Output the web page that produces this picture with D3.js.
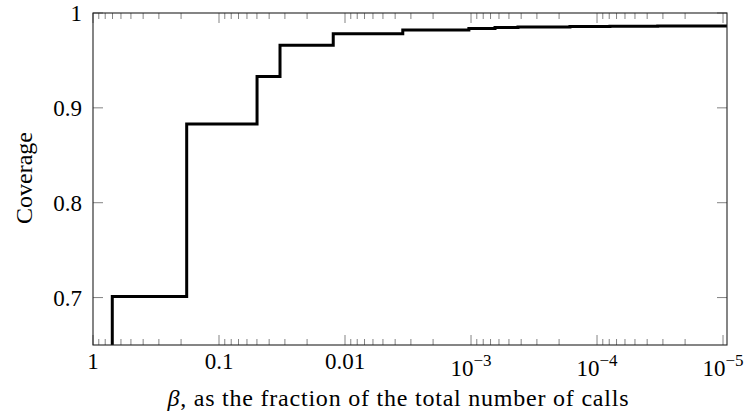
<!DOCTYPE html>
<html><head><meta charset="utf-8">
<script src="https://cdn.jsdelivr.net/npm/d3@7"></script>
<style>body{margin:0;background:#fff}svg{display:block}text{font-family:"Liberation Serif","DejaVu Serif",serif;fill:#000}</style>
</head><body><svg id="c" width="746" height="420"></svg>
<script>
// data: beta threshold (fraction of total calls) and coverage
const betas    = [0.703, 0.703, 0.1805, 0.0499, 0.0328, 0.0124, 0.00348, 0.00104, 0.000645, 0.000424, 0.000164, 0.000079, 0.000033, 0.0000093];
const coverage = [0.60,  0.701, 0.883,  0.933,  0.966,  0.978,  0.982,   0.9837,  0.9847,   0.9852,   0.9857,   0.9860,   0.9862,   0.9862];
const xTickValues = [1, 0.1, 0.01, 1e-3, 1e-4, 1e-5];
const xTickLabels = ["1", "0.1", "0.01", "10|−3", "10|−4", "10|−5"];
const yTickValues = [0.7, 0.8, 0.9, 1];
const yTickLabels = ["0.7", "0.8", "0.9", "1"];

const L = 93, R = 727, T = 13, B = 345;
const svg = d3.select("#c");
const x = d3.scaleLog().domain([1, 0.0000093]).range([L, R]);
const y = d3.scaleLinear().domain([0.65, 1]).range([B, T]);

// minor ticks
const minor = [];
for (let e = 0; e >= -5; e--) for (let k = 2; k <= 9; k++) { const v = k * Math.pow(10, e - 1); if (v >= 0.0000093) minor.push(v); }

const tickG = svg.append("g").attr("stroke", "#000").attr("stroke-opacity", 0.55).attr("stroke-width", 0.9);
minor.forEach(v => {
  tickG.append("line").attr("x1", x(v)).attr("x2", x(v)).attr("y1", B).attr("y2", B - 6);
  tickG.append("line").attr("x1", x(v)).attr("x2", x(v)).attr("y1", T).attr("y2", T + 6);
});
xTickValues.forEach(v => {
  tickG.append("line").attr("x1", x(v)).attr("x2", x(v)).attr("y1", B).attr("y2", B - 10);
  tickG.append("line").attr("x1", x(v)).attr("x2", x(v)).attr("y1", T).attr("y2", T + 10);
});
yTickValues.forEach(v => {
  tickG.append("line").attr("x1", L).attr("x2", L + 10).attr("y1", y(v)).attr("y2", y(v));
  tickG.append("line").attr("x1", R).attr("x2", R - 10).attr("y1", y(v)).attr("y2", y(v));
});

// data line
svg.append("clipPath").attr("id", "clip").append("rect").attr("x", L).attr("y", T).attr("width", R - L).attr("height", B - T);
const pts = betas.map((b, i) => [b, coverage[i]]);
svg.append("path").datum(pts).attr("clip-path", "url(#clip)")
  .attr("fill", "none").attr("stroke", "#000").attr("stroke-width", 3).attr("stroke-linejoin", "miter")
  .attr("d", d3.line().x(d => x(d[0])).y(d => y(d[1])).curve(d3.curveStepAfter));

// frame
svg.append("rect").attr("x", L).attr("y", T).attr("width", R - L).attr("height", B - T)
  .attr("fill", "none").attr("stroke", "#222").attr("stroke-width", 1.1);

const fs = 23;
// x tick labels
xTickValues.forEach((v, i) => {
  const lab = xTickLabels[i];
  if (lab.includes("|")) {
    const [base, exp] = lab.split("|");
    const t = svg.append("text").attr("x", x(v)).attr("y", 376).attr("text-anchor", "middle").attr("font-size", fs);
    t.append("tspan").text(base);
    t.append("tspan").attr("font-size", 17).attr("dy", -10).text(exp);
  } else {
    svg.append("text").attr("x", x(v)).attr("y", 369).attr("text-anchor", "middle").attr("font-size", fs).text(lab);
  }
});
// y tick labels
yTickValues.forEach((v, i) => {
  svg.append("text").attr("x", 82).attr("y", y(v) + 8).attr("text-anchor", "end").attr("font-size", fs).text(yTickLabels[i]);
});
// axis labels
const xl = svg.append("text").attr("x", 398).attr("y", 406).attr("text-anchor", "middle").attr("font-size", 24)
  .attr("textLength", 461).attr("lengthAdjust", "spacing");
xl.append("tspan").attr("font-style", "italic").text("β");
xl.append("tspan").text(", as the fraction of the total number of calls");
svg.append("text").attr("transform", "translate(32,178) rotate(-90)").attr("text-anchor", "middle").attr("font-size", 24).text("Coverage");
</script></body></html>
